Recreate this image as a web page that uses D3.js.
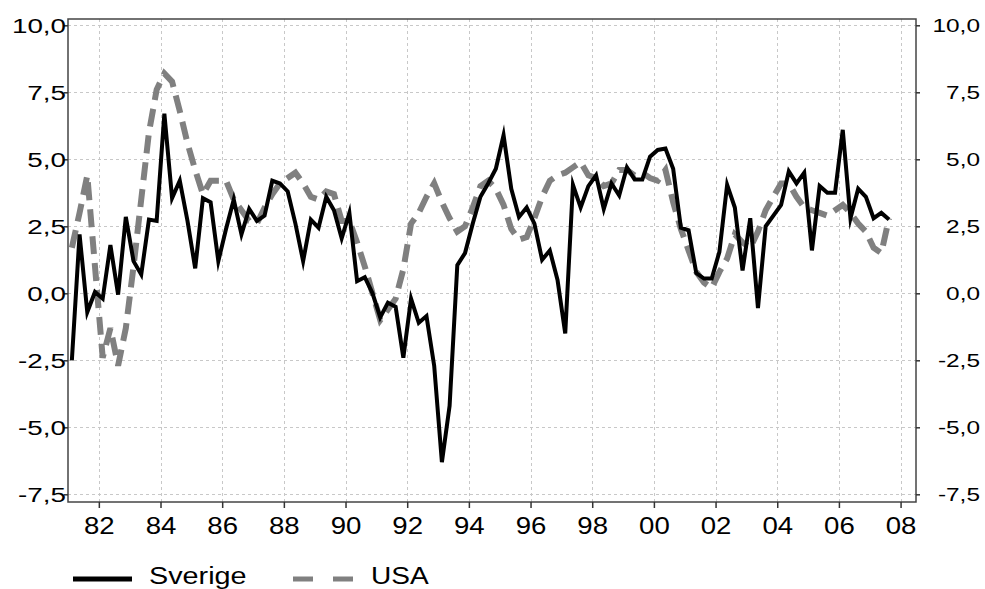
<!DOCTYPE html>
<html>
<head>
<meta charset="utf-8">
<script src="https://cdn.jsdelivr.net/npm/d3@7"></script>
<style>
  html, body { margin: 0; padding: 0; background: #fff; }
  svg { display: block; font-family: "Liberation Sans", Arial, sans-serif; }
</style>
</head>
<body>
<svg id="chart" width="985" height="589"></svg>
<script>
// Quarterly GDP growth, per cent, 1981Q1 - 2007Q3
const startYear = 1981;

const sverige = [
  -2.5, 2.2, -0.7, 0.05, -0.2, 1.8, -0.05, 2.85, 1.2, 0.7,
  2.75, 2.7, 6.7, 3.55, 4.2, 2.7, 0.93, 3.55, 3.4, 1.2,
  2.4, 3.5, 2.2, 3.15, 2.7, 2.9, 4.2, 4.1, 3.8, 2.6,
  1.2, 2.75, 2.45, 3.6, 3.1, 2.05, 3.0, 0.45, 0.6, 0.0,
  -0.9, -0.35, -0.5, -2.4, -0.2, -1.1, -0.85, -2.7, -6.3, -4.2,
  1.05, 1.5, 2.6, 3.6, 4.1, 4.65, 5.9, 3.9, 2.85, 3.2,
  2.6, 1.25, 1.6, 0.5, -1.5, 4.05, 3.2, 4.0, 4.4, 3.15,
  4.1, 3.65, 4.7, 4.25, 4.25, 5.1, 5.35, 5.4, 4.65, 2.45,
  2.35, 0.75, 0.55, 0.55, 1.55, 4.05, 3.2, 0.85, 2.8, -0.55,
  2.5, 2.9, 3.3, 4.55, 4.1, 4.5, 1.6, 4.0, 3.75, 3.75,
  6.1, 2.8, 3.9, 3.6, 2.8, 3.0, 2.75
];

const usa = [
  1.7, 3.0, 4.4, 1.0, -2.4, -1.3, -2.7, -1.3, 1.0, 3.5,
  6.0, 7.6, 8.2, 7.9, 6.8, 5.6, 4.6, 3.7, 4.2, 4.2,
  4.2, 3.5, 3.1, 2.7, 2.6, 3.2, 3.7, 4.1, 4.3, 4.5,
  4.1, 3.6, 3.5, 3.8, 3.7, 2.7, 2.7, 1.9, 1.0, 0.0,
  -1.0, -0.6, -0.2, 0.9, 2.6, 3.0, 3.6, 4.1, 3.4, 2.8,
  2.3, 2.5, 3.2, 4.0, 4.2, 3.9, 3.3, 2.4, 2.0, 2.1,
  2.8, 3.6, 4.2, 4.4, 4.5, 4.7, 4.9, 4.4, 4.3, 4.0,
  4.1, 4.6, 4.6, 4.4, 4.5, 4.3, 4.2, 4.6, 3.4, 2.4,
  1.6, 0.8, 0.4, 0.2, 0.8, 1.3, 2.2, 1.9, 1.7, 2.3,
  3.1, 3.6, 4.1, 4.1, 3.6, 3.2, 3.1, 3.0, 2.9, 3.1,
  3.3, 3.0, 2.6, 2.3, 1.7, 1.5, 2.8
];

const yTicks = [-7.5, -5.0, -2.5, 0.0, 2.5, 5.0, 7.5, 10.0];
const xTickYears = [1982, 1984, 1986, 1988, 1990, 1992, 1994, 1996, 1998, 2000, 2002, 2004, 2006, 2008];
const xTickLabels = ["82", "84", "86", "88", "90", "92", "94", "96", "98", "00", "02", "04", "06", "08"];
const seriesNames = ["Sverige", "USA"];

(function draw() {
  // quarter labels and their position on a continuous time axis (mid-quarter)
  const periods = sverige.map((_, i) => `${startYear + Math.floor(i / 4)}Q${i % 4 + 1}`);
  const periodTime = p => +p.slice(0, 4) + (+p.slice(5) - 1) / 4 + 0.125;

  const svg = d3.select("#chart");
  const pLeft = 68, pRight = 916, pTop = 19, pBottom = 502;

  const x = d3.scaleLinear().domain([1981, 2008.5]).range([pLeft, pRight]);
  const y = d3.scaleLinear().domain([-7.787, 10.235]).range([pBottom, pTop]);

  const sv = d3.formatLocale({ decimal: ",", thousands: " ", grouping: [3], currency: ["", " kr"], minus: "-" });
  const fmt = sv.format(".1f");

  // grid
  const grid = svg.append("g").attr("stroke", "#c8c8c8").attr("stroke-width", 1).attr("stroke-dasharray", "3,3");
  grid.selectAll("line.h").data(yTicks).join("line").attr("class", "h")
    .attr("x1", pLeft).attr("x2", pRight)
    .attr("y1", d => Math.round(y(d)) + 0.5).attr("y2", d => Math.round(y(d)) + 0.5);
  grid.selectAll("line.v").data(xTickYears).join("line").attr("class", "v")
    .attr("y1", pTop).attr("y2", pBottom)
    .attr("x1", d => Math.round(x(d)) + 0.5).attr("x2", d => Math.round(x(d)) + 0.5);

  // series
  const line = d3.line().x((d, i) => x(periodTime(periods[i]))).y(d => y(d));

  svg.append("path").datum(usa)
    .attr("fill", "none").attr("stroke", "#808080").attr("stroke-width", 6)
    .attr("stroke-dasharray", "18,9").attr("d", line);

  svg.append("path").datum(sverige)
    .attr("fill", "none").attr("stroke", "#000").attr("stroke-width", 4)
    .attr("stroke-linejoin", "miter").attr("stroke-miterlimit", 6).attr("d", line);

  // frame
  svg.append("rect").attr("x", pLeft).attr("y", pTop).attr("width", pRight - pLeft).attr("height", pBottom - pTop)
    .attr("fill", "none").attr("stroke", "#444").attr("stroke-width", 1.5);

  // axes
  function styleAxis(g, size) {
    g.select(".domain").remove();
    g.selectAll(".tick line").attr("stroke", "#333").attr("stroke-width", 1.5);
    g.selectAll(".tick text")
      .attr("fill", "#000").attr("font-size", size)
      .attr("font-family", "'Liberation Sans', Arial, sans-serif");
  }

  const sl = 1.39, sr = 1.32, sb = 1.2;

  const gLeft = svg.append("g").attr("transform", `translate(${pLeft},0)`)
    .call(d3.axisLeft(y).tickValues(yTicks).tickFormat(fmt).tickSize(4).tickSizeOuter(0));
  styleAxis(gLeft, 20);
  gLeft.selectAll(".tick text").attr("x", -2 / sl).attr("dy", "0.34em")
    .attr("transform", `scale(${sl},1)`);

  const gRight = svg.append("g").attr("transform", `translate(${pRight},0)`)
    .call(d3.axisRight(y).tickValues(yTicks).tickFormat(fmt).tickSize(4).tickSizeOuter(0));
  styleAxis(gRight, 18.5);
  gRight.selectAll(".tick text").attr("text-anchor", "end").attr("x", 64 / sr).attr("dy", "0.36em")
    .attr("transform", `scale(${sr},1)`);

  const gBottom = svg.append("g").attr("transform", `translate(0,${pBottom})`)
    .call(d3.axisBottom(x).tickValues(xTickYears).tickFormat((d, i) => xTickLabels[i]).tickSize(6).tickSizeOuter(0));
  styleAxis(gBottom, 23);
  gBottom.selectAll(".tick text").attr("y", 32).attr("dy", 0)
    .attr("transform", `scale(${sb},1)`);

  // legend
  const leg = svg.append("g");
  leg.append("line").attr("x1", 73).attr("x2", 132).attr("y1", 579).attr("y2", 579)
    .attr("stroke", "#000").attr("stroke-width", 5);
  leg.append("text").attr("transform", "translate(149,584) scale(1.2,1)")
    .attr("font-size", 24).attr("fill", "#000").text(seriesNames[0]);
  leg.append("line").attr("x1", 293).attr("x2", 353).attr("y1", 579).attr("y2", 579)
    .attr("stroke", "#808080").attr("stroke-width", 5).attr("stroke-dasharray", "20,20");
  leg.append("text").attr("transform", "translate(371,584) scale(1.17,1)")
    .attr("font-size", 24).attr("fill", "#000").text(seriesNames[1]);
})();
</script>
</body>
</html>
